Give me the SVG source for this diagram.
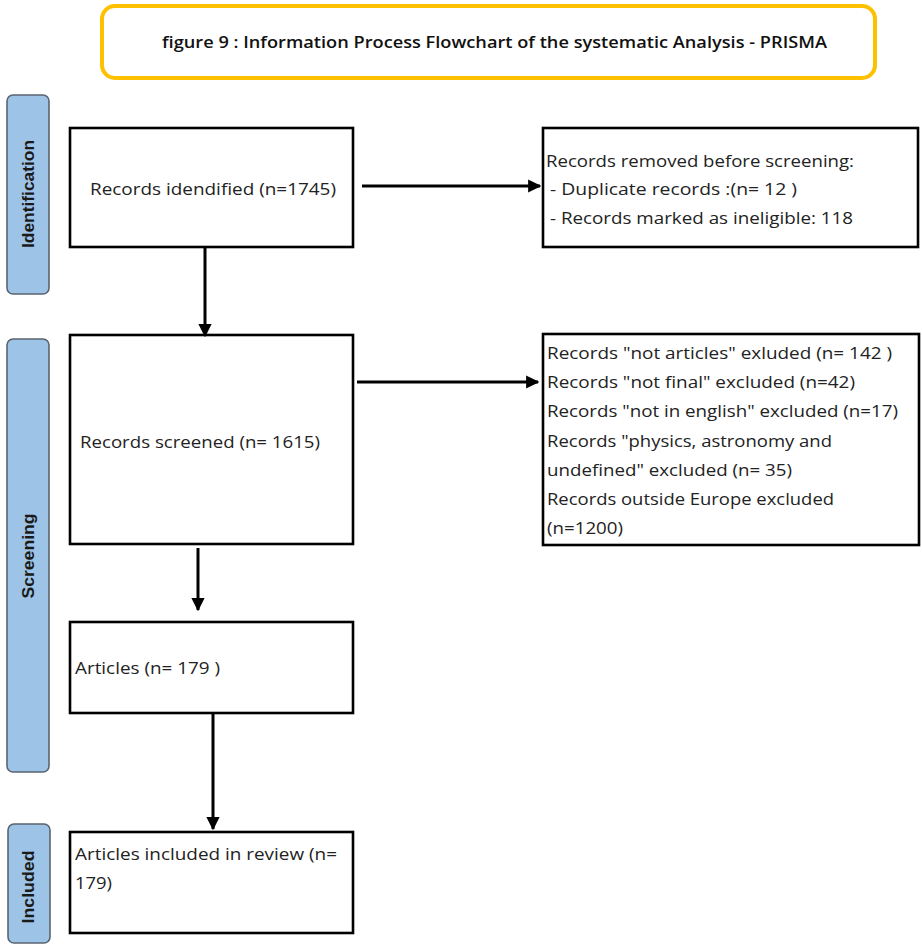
<svg xmlns="http://www.w3.org/2000/svg" width="922" height="945" viewBox="0 0 922 945">
<style>
.box{fill:#fff;stroke:#000;stroke-width:2.6}
.side{fill:#9dc3e6;stroke:#5a6470;stroke-width:1.6}
.sidet{font-family:"Liberation Sans",Arial,sans-serif;font-weight:bold;font-size:16px;fill:#1a1a1a}
.t{font-family:"Open Sans","Liberation Sans",sans-serif;font-size:16.5px;fill:#222}
.title{font-family:"Open Sans","Liberation Sans",sans-serif;font-size:16.5px;font-weight:600;fill:#111}
.conn{stroke:#000;stroke-width:3;fill:none;marker-end:url(#ah)}
</style>
<defs>
<marker id="ah" viewBox="0 0 10 10" refX="9" refY="5" markerWidth="4.4" markerHeight="4.4" orient="auto" markerUnits="strokeWidth">
<path d="M0,0 L10,5 L0,10 z" fill="#000"/>
</marker>
</defs>
<rect width="922" height="945" fill="#fff"/>
<g id="title">
<rect x="102" y="6" width="773" height="72" rx="13" fill="#fff" stroke="#ffc000" stroke-width="4"/>
<text class="title" x="162" y="48" textLength="665" lengthAdjust="spacingAndGlyphs">figure 9 : Information Process Flowchart of the systematic Analysis - PRISMA</text>
</g>
<g id="stage-identification">
<rect class="side" x="7" y="95" width="42" height="199" rx="6"/>
<text class="sidet" transform="translate(34,194) rotate(-90)" text-anchor="middle" textLength="108" lengthAdjust="spacingAndGlyphs">Identification</text>
</g>
<g id="stage-screening">
<rect class="side" x="7" y="339" width="42" height="433" rx="6"/>
<text class="sidet" transform="translate(34,556) rotate(-90)" text-anchor="middle" textLength="85" lengthAdjust="spacingAndGlyphs">Screening</text>
</g>
<g id="stage-included">
<rect class="side" x="8" y="824" width="42" height="119" rx="6"/>
<text class="sidet" transform="translate(34,887) rotate(-90)" text-anchor="middle" textLength="73" lengthAdjust="spacingAndGlyphs">Included</text>
</g>
<g id="identified">
<rect class="box" x="70" y="128" width="283" height="119"/>
<text class="t" x="90" y="195" textLength="246" lengthAdjust="spacingAndGlyphs">Records idendified (n=1745)</text>
</g>
<g id="removed">
<rect class="box" x="543" y="128" width="375" height="119"/>
<text class="t" x="546" y="167" textLength="308" lengthAdjust="spacingAndGlyphs">Records removed before screening:</text>
<text class="t" x="550" y="195" textLength="247" lengthAdjust="spacingAndGlyphs">- Duplicate records :(n= 12  )</text>
<text class="t" x="550" y="224" textLength="303" lengthAdjust="spacingAndGlyphs">- Records marked as ineligible: 118</text>
</g>
<g id="screened">
<rect class="box" x="70" y="335" width="283" height="209"/>
<text class="t" x="80" y="448" textLength="240" lengthAdjust="spacingAndGlyphs">Records screened (n= 1615)</text>
</g>
<g id="excluded">
<rect class="box" x="543" y="334" width="376" height="211"/>
<text class="t" x="547" y="359" textLength="345" lengthAdjust="spacingAndGlyphs">Records "not articles" exluded (n= 142 )</text>
<text class="t" x="547" y="388" textLength="308" lengthAdjust="spacingAndGlyphs">Records "not final" excluded (n=42)</text>
<text class="t" x="547" y="417" textLength="351" lengthAdjust="spacingAndGlyphs">Records "not in english" excluded (n=17)</text>
<text class="t" x="547" y="447" textLength="285" lengthAdjust="spacingAndGlyphs">Records "physics, astronomy and</text>
<text class="t" x="547" y="476" textLength="245" lengthAdjust="spacingAndGlyphs">undefined" excluded (n= 35)</text>
<text class="t" x="547" y="505" textLength="287" lengthAdjust="spacingAndGlyphs">Records outside Europe excluded</text>
<text class="t" x="547" y="534" textLength="76" lengthAdjust="spacingAndGlyphs">(n=1200)</text>
</g>
<g id="articles">
<rect class="box" x="70" y="622" width="283" height="91"/>
<text class="t" x="75" y="674" textLength="145" lengthAdjust="spacingAndGlyphs">Articles (n= 179 )</text>
</g>
<g id="included">
<rect class="box" x="70" y="832" width="283" height="101"/>
<text class="t" x="75" y="860" textLength="262" lengthAdjust="spacingAndGlyphs">Articles included in review (n=</text>
<text class="t" x="75" y="889" textLength="37" lengthAdjust="spacingAndGlyphs">179)</text>
</g>
<g id="connectors">
<line class="conn" x1="362" y1="186" x2="540" y2="186"/>
<line class="conn" x1="205" y1="248" x2="205" y2="336"/>
<line class="conn" x1="357" y1="382" x2="538" y2="382"/>
<line class="conn" x1="198" y1="548" x2="198" y2="610"/>
<line class="conn" x1="213" y1="714" x2="213" y2="829"/>
</g>
</svg>
